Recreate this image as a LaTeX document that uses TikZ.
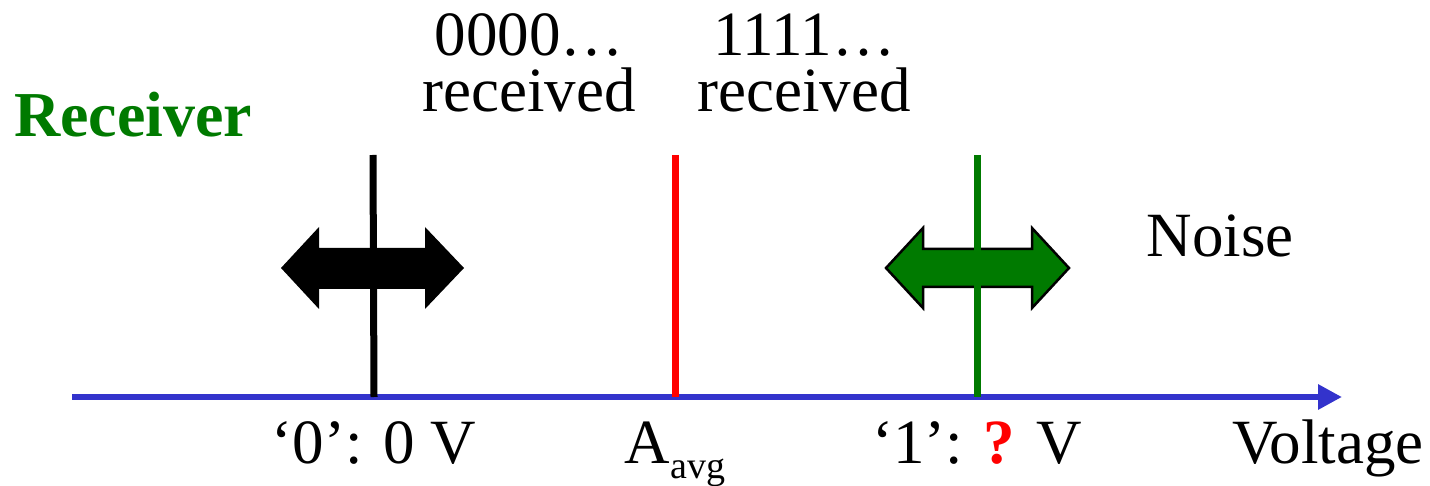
\documentclass[tikz,border=0pt]{standalone}
\usepackage{fontspec}
\setmainfont{Liberation Serif}
\usetikzlibrary{arrows.meta}
\definecolor{axisblue}{RGB}{51,51,204}
\definecolor{rgreen}{RGB}{0,122,0}
\definecolor{rred}{RGB}{255,0,0}
\begin{document}
\begin{tikzpicture}[x=1pt,y=-1pt,
  lbl/.style={inner sep=0pt,anchor=base,font=\fontsize{63}{56}\selectfont},
  twoline/.style={inner sep=0pt,anchor=base,align=center,font=\fontsize{63}{56}\selectfont},
  vline/.style={line width=7pt},
  dblarrow/.style={line join=miter}]
\useasboundingbox (0,0) rectangle (1430,486);
% axis
\coordinate (axs) at (72,397);
\coordinate (axe) at (1342,397);
\draw[axisblue,line width=6pt,-{Triangle[length=24pt,width=24pt]}] (axs) -- (axe);
% black noise arrow
\fill[black] (281,268) -- (319,227) -- (319,248) -- (425,248) -- (425,227) -- (464,268)
  -- (425,309) -- (425,289) -- (319,289) -- (319,309) -- cycle;
% green noise arrow
\filldraw[fill=rgreen,draw=black,line width=2.5pt,dblarrow] (886,268) -- (923,228) -- (923,249) -- (1032,249) -- (1032,228) -- (1069,268)
  -- (1032,308) -- (1032,287) -- (923,287) -- (923,308) -- cycle;
% vertical lines
\coordinate (zt) at (373,155); \coordinate (zb) at (374,397);
\coordinate (at) at (675,155); \coordinate (ab) at (675,397);
\coordinate (ot) at (977,155); \coordinate (ob) at (977,397);
\draw[vline,black] (zt) -- (zb);
\draw[vline,rred] (at) -- (ab);
\draw[vline,rgreen] (ot) -- (ob);
% texts
\node[inner sep=0pt,anchor=base west,text=rgreen,font=\fontsize{64}{64}\selectfont\bfseries] (recv) at (14,137) {Receiver};
\node[twoline] (zr) at (529,112) {0000…\\received};
\node[twoline] (or) at (804,112) {1111…\\received};
\node[lbl] (noise) at (1220,257) {Noise};
\node[lbl] (zero) at (374,463) {‘0’: 0 V};
\node[lbl] (avg) at (675,463) {A\raisebox{-15pt}{\fontsize{38}{38}\selectfont avg}};
\node[lbl] (one) at (977,463) {‘1’: {\color{rred}\bfseries ?} V};
\node[lbl] (volt) at (1328,463) {Voltage};
\end{tikzpicture}
\end{document}
